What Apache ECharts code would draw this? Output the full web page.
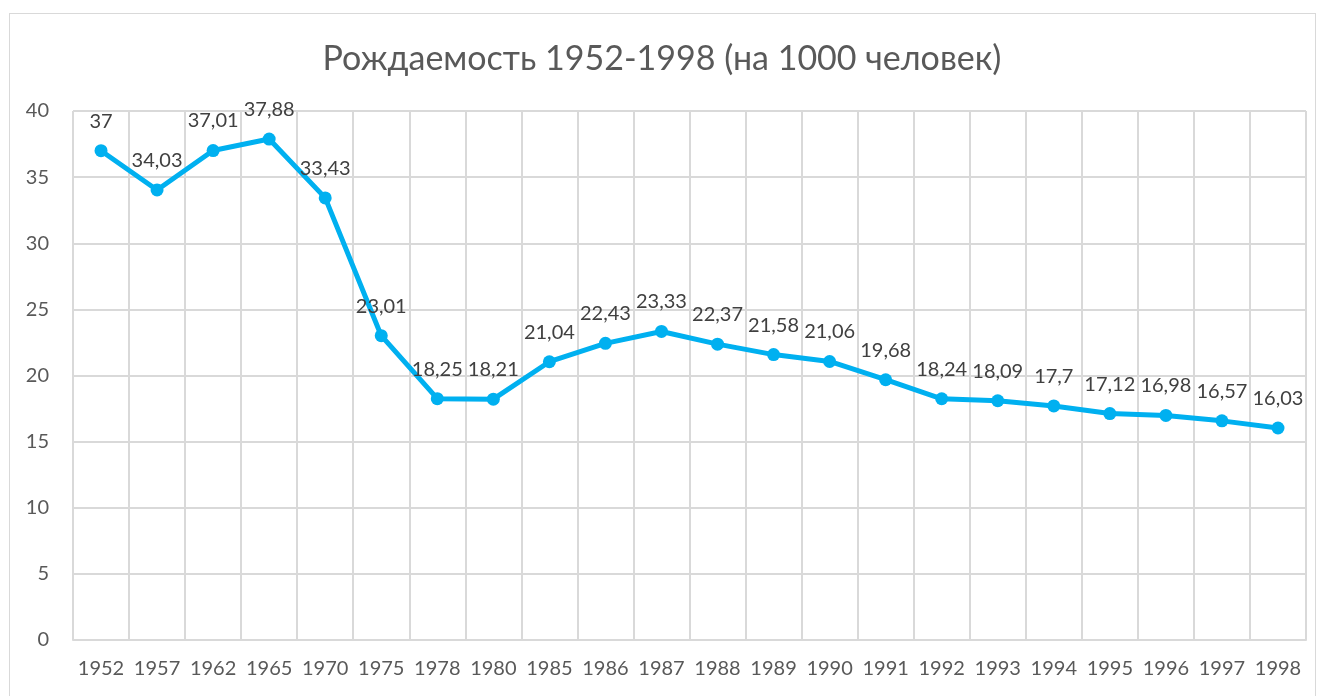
<!DOCTYPE html>
<html>
<head>
<meta charset="utf-8">
<script src="https://cdn.jsdelivr.net/npm/echarts@6/dist/echarts.min.js"></script>
<style>
  html, body { margin: 0; padding: 0; background: #fff; }
  #frame { position: absolute; left: 9px; top: 13px; width: 1307px; height: 700px; border: 1px solid #d9d9d9; box-sizing: border-box; }
  #chart { position: absolute; left: 0; top: 0; width: 1324px; height: 696px; }
</style>
</head>
<body>
<div id="frame"></div>
<div id="chart"></div>
<script>
// годы и рождаемость на 1000 человек
const years = ['1952', '1957', '1962', '1965', '1970', '1975', '1978', '1980', '1985', '1986', '1987',
  '1988', '1989', '1990', '1991', '1992', '1993', '1994', '1995', '1996', '1997', '1998'];
const birthRate = [37, 34.03, 37.01, 37.88, 33.43, 23.01, 18.25, 18.21, 21.04, 22.43, 23.33,
  22.37, 21.58, 21.06, 19.68, 18.24, 18.09, 17.7, 17.12, 16.98, 16.57, 16.03];
const yTicks = [0, 5, 10, 15, 20, 25, 30, 35, 40];

const FONT = 'Lato, "Open Sans", sans-serif';
const chart = echarts.init(document.getElementById('chart'));

const option = {
  backgroundColor: 'transparent',
  animation: false,
  title: {
    text: 'Рождаемость 1952-1998 (на 1000 человек)',
    left: 'center',
    top: 37,
    textStyle: { fontFamily: FONT, fontSize: 34, fontWeight: 'normal', color: '#595959' },
  },
  grid: { left: 73, right: 18, top: 111, bottom: 56 },
  xAxis: {
    type: 'category',
    data: years,
    boundaryGap: true,
    axisLine: { lineStyle: { color: '#d9d9d9', width: 2 } },
    axisTick: { show: false },
    splitLine: { show: true, interval: 0, lineStyle: { color: '#d9d9d9', width: 2 } },
    axisLabel: { interval: 0, color: '#595959', fontFamily: FONT, fontSize: 20, margin: 19 },
  },
  yAxis: {
    type: 'value',
    min: yTicks[0],
    max: yTicks[yTicks.length - 1],
    interval: 5,
    axisLine: { show: false },
    axisTick: { show: false },
    splitLine: { lineStyle: { color: '#d9d9d9', width: 2 } },
    axisLabel: { color: '#595959', fontFamily: FONT, fontSize: 20, margin: 24 },
  },
  series: [
    {
      type: 'line',
      data: birthRate,
      symbol: 'circle',
      symbolSize: 13,
      lineStyle: { color: '#00b0f0', width: 5 },
      itemStyle: { color: '#00b0f0' },
      label: {
        show: true,
        position: 'top',
        distance: 13,
        color: '#404040',
        fontFamily: FONT,
        fontSize: 20,
        formatter: (p) => String(p.value).replace('.', ','),
      },
    },
  ],
};

chart.setOption(option);
window.addEventListener('resize', () => chart.resize());
</script>
</body>
</html>
